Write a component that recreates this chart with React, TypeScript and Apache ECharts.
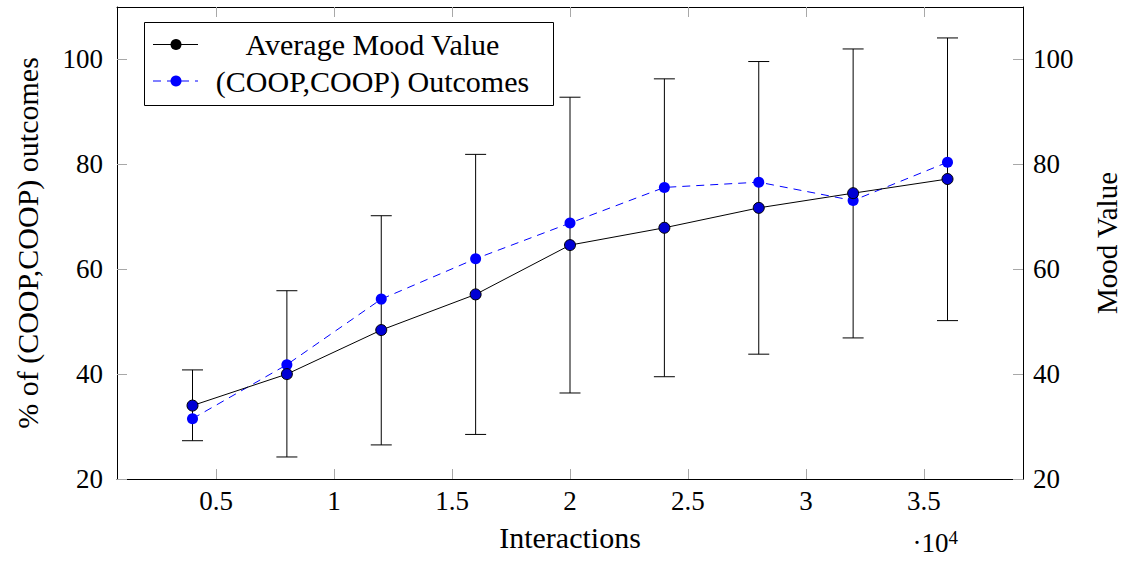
import React, { useEffect, useRef } from "react";
import * as echarts from "echarts";

// Data (interactions, values)
const interactions = [4000, 8000, 12000, 16000, 20000, 24000, 28000, 32000, 36000];
const moodMean = [34.0, 40.0, 48.4, 55.2, 64.6, 67.9, 71.7, 74.5, 77.2];
const moodLow = [27.3, 24.2, 26.5, 28.5, 36.4, 39.5, 43.8, 46.9, 50.2];
const moodHigh = [40.8, 55.9, 70.2, 81.9, 92.8, 96.3, 99.6, 102.0, 104.1];
const coopOutcomes = [31.5, 41.8, 54.3, 62.0, 68.8, 75.6, 76.6, 73.1, 80.4];

const xTicks = [5000, 10000, 15000, 20000, 25000, 30000, 35000];
const yTicks = [20, 40, 60, 80, 100];

const seriesNames = ["Average Mood Value", "(COOP,COOP) Outcomes"];
const xName = "Interactions";
const yLeftName = "% of (COOP,COOP) outcomes";
const yRightName = "Mood Value";

const FONT = "Liberation Serif, Times New Roman, DejaVu Serif, serif";

export default function App() {
  const ref = useRef<HTMLDivElement>(null);

  useEffect(() => {
    if (!ref.current) return;
    const chart = echarts.init(ref.current, null, { renderer: "svg" });

    const tickStyle = { color: "#a8a8a8", width: 1 };
    const axisLine = { show: true, onZero: false, lineStyle: { color: "#000", width: 1 } };

    const xCommon = {
      type: "value" as const,
      min: 800,
      max: 39200,
      splitLine: { show: false },
      axisLine,
      axisTick: { show: true, inside: true, length: 10, lineStyle: tickStyle, customValues: xTicks },
    };
    const yCommon = {
      type: "value" as const,
      min: 20,
      max: 110,
      splitLine: { show: false },
      axisLine,
      axisTick: { show: true, inside: true, length: 10, lineStyle: tickStyle, customValues: yTicks },
    };

    const txt = (size: number) => ({ fontSize: size, fontFamily: FONT, fill: "#000" });

    const option: any = {
      animation: false,
      backgroundColor: "#fff",
      textStyle: { fontFamily: FONT },
      grid: { left: 117, right: 99, top: 7, bottom: 83, containLabel: false },
      xAxis: [
        {
          ...xCommon,
          position: "bottom",
          axisLabel: {
            customValues: xTicks,
            formatter: (v: number) => String(v / 10000),
            fontSize: 27,
            fontFamily: FONT,
            color: "#000",
            margin: 8,
          },
        },
        {
          ...xCommon,
          position: "top",
          axisLabel: { show: false },
        },
      ],
      yAxis: [
        {
          ...yCommon,
          position: "left",
          axisLabel: { customValues: yTicks, fontSize: 27, fontFamily: FONT, color: "#000", margin: 14 },
        },
        {
          ...yCommon,
          position: "right",
          axisLabel: { customValues: yTicks, fontSize: 27, fontFamily: FONT, color: "#000", margin: 10 },
        },
      ],
      series: [
        {
          type: "custom",
          name: "errorbars",
          xAxisIndex: 0,
          yAxisIndex: 1,
          silent: true,
          z: 1,
          data: interactions.map((x, i) => [x, moodLow[i], moodHigh[i]]),
          encode: { x: 0, y: [1, 2] },
          renderItem: (params: any, api: any) => {
            const x = api.value(0);
            const lo = api.coord([x, api.value(1)]);
            const hi = api.coord([x, api.value(2)]);
            const w = 10.5;
            const style = { stroke: "#000", lineWidth: 1, fill: null };
            return {
              type: "group",
              children: [
                { type: "line", shape: { x1: lo[0], y1: lo[1], x2: hi[0], y2: hi[1] }, style },
                { type: "line", shape: { x1: lo[0] - w, y1: lo[1], x2: lo[0] + w, y2: lo[1] }, style },
                { type: "line", shape: { x1: hi[0] - w, y1: hi[1], x2: hi[0] + w, y2: hi[1] }, style },
              ],
            };
          },
        },
        {
          type: "line",
          name: seriesNames[0],
          xAxisIndex: 0,
          yAxisIndex: 1,
          z: 3,
          data: interactions.map((x, i) => [x, moodMean[i]]),
          symbol: "circle",
          symbolSize: 11,
          showSymbol: true,
          lineStyle: { color: "#000", width: 1 },
          itemStyle: { color: "#0000d4", borderColor: "#000", borderWidth: 1 },
          emphasis: { disabled: true },
        },
        {
          type: "line",
          name: seriesNames[1],
          xAxisIndex: 0,
          yAxisIndex: 0,
          z: 2,
          data: interactions.map((x, i) => [x, coopOutcomes[i]]),
          symbol: "circle",
          symbolSize: 11,
          showSymbol: true,
          lineStyle: { color: "#0000ff", width: 1, type: [8, 6] },
          itemStyle: { color: "#0000ff", borderWidth: 0 },
          emphasis: { disabled: true },
        },
      ],
      graphic: [
        {
          type: "text",
          x: 570,
          y: 537,
          style: { text: xName, ...txt(30), align: "center", verticalAlign: "middle" },
        },
        {
          type: "text",
          x: 958,
          y: 543,
          style: {
            text: "{m|·10}{s|4}",
            align: "right",
            verticalAlign: "middle",
            rich: {
              m: { fontSize: 27, fontFamily: FONT, fill: "#000" },
              s: { fontSize: 19, fontFamily: FONT, fill: "#000", padding: [0, 0, 12, 0] },
            },
          },
        },
        {
          type: "text",
          x: 27,
          y: 243,
          rotation: Math.PI / 2,
          style: { text: yLeftName, ...txt(30), align: "center", verticalAlign: "middle" },
        },
        {
          type: "text",
          x: 1107,
          y: 243,
          rotation: Math.PI / 2,
          style: { text: yRightName, ...txt(29), align: "center", verticalAlign: "middle" },
        },
        {
          type: "group",
          z: 100,
          children: [
            {
              type: "rect",
              shape: { x: 144.5, y: 22.5, width: 409, height: 83 },
              style: { fill: "#fff", stroke: "#000", lineWidth: 1 },
            },
            { type: "line", shape: { x1: 153, y1: 44.5, x2: 198, y2: 44.5 }, style: { stroke: "#000", lineWidth: 1 } },
            { type: "circle", shape: { cx: 176, cy: 44.5, r: 5.5 }, style: { fill: "#000" } },
            {
              type: "text",
              x: 372.5,
              y: 44.5,
              style: { text: seriesNames[0], ...txt(30), align: "center", verticalAlign: "middle" },
            },
            {
              type: "line",
              shape: { x1: 153, y1: 81, x2: 198, y2: 81 },
              style: { stroke: "#0000ff", lineWidth: 1, lineDash: [8, 6] },
            },
            { type: "circle", shape: { cx: 176, cy: 81, r: 5.5 }, style: { fill: "#0000ff" } },
            {
              type: "text",
              x: 372.5,
              y: 81,
              style: { text: seriesNames[1], ...txt(30), align: "center", verticalAlign: "middle" },
            },
          ],
        },
      ],
    };

    chart.setOption(option);
    return () => chart.dispose();
  }, []);

  return (
    <div
      ref={ref}
      style={{ position: "absolute", left: 0, top: 0, width: 1122, height: 562, background: "#fff" }}
    />
  );
}
